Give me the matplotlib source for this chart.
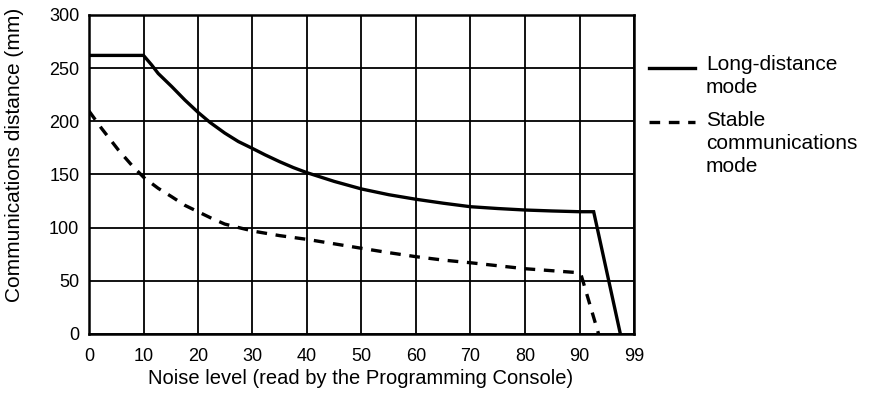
import matplotlib
matplotlib.use("Agg")
import matplotlib.pyplot as plt
from matplotlib.lines import Line2D

plt.rcParams['font.family'] = ['Liberation Sans', 'DejaVu Sans']

# Long-distance mode
long_x = [0, 10, 11.5, 12.7, 15.2, 17.6, 20, 22.2, 24.9, 27.4, 29.8, 32.3, 35, 37.5,
          40, 45, 50, 55, 60, 65, 70, 75, 80, 85, 90, 92.6, 97.5]
long_y = [262, 262, 253, 245, 232.6, 220, 208.5, 199, 189, 181, 175, 168.5, 162, 156.5,
          151.7, 143.5, 136.4, 131, 126.7, 123, 119.7, 118, 116.6, 115.7, 115, 115, 0]

# Stable communications mode
stable_x = [0, 2.3, 5.4, 7.8, 10.1, 12.7, 15.2, 17.6, 20, 22.5, 24.9, 28, 30.4, 35,
            40, 45, 50, 55, 60, 65, 70, 75, 80, 85, 89.7, 90.3, 93.5]
stable_y = [209.7, 193.4, 173, 159, 147, 137, 129, 121, 115, 108.8, 103.4, 99.4, 96.5, 92.5,
            89, 84.8, 80.6, 76.5, 72.7, 69.5, 67, 64.2, 61.4, 59.5, 57.7, 55.5, 0]

xtick_pos = [0, 10, 20, 30, 40, 50, 60, 70, 80, 90, 100]
xtick_labels = ["0", "10", "20", "30", "40", "50", "60", "70", "80", "90", "99"]
ytick_pos = [0, 50, 100, 150, 200, 250, 300]

fig = plt.figure(figsize=(8.7, 4.0), dpi=100)
ax = fig.add_axes([89/870, 1-334/400, (634-89)/870, (334-15)/400])

ax.plot(long_x, long_y, color='black', lw=2.4, solid_joinstyle='miter', zorder=3)
ax.plot(stable_x, stable_y, color='black', lw=2.4, linestyle=(0, (3.2, 2.6)), zorder=3)

ax.set_xlim(0, 100)
ax.set_ylim(0, 300)
ax.set_xticks(xtick_pos)
ax.set_xticklabels(xtick_labels)
ax.set_yticks(ytick_pos)
ax.grid(True, color='black', lw=1.3)
ax.set_axisbelow(True)
for s in ax.spines.values():
    s.set_linewidth(1.8)
ax.tick_params(length=0, labelsize=13, pad=7)
ax.tick_params(axis='x', pad=10)

fig.text(15/870, 1-155/400, "Communications distance (mm)", rotation=90,
         ha='center', va='center', fontsize=15)
fig.text(361/870, 1-378/400, "Noise level (read by the Programming Console)",
         ha='center', va='center', fontsize=14.5)

# legend
fig.add_artist(Line2D([649/870, 695/870], [1-68/400, 1-68/400], color='black', lw=2.4))
fig.add_artist(Line2D([649/870, 695/870], [1-122/400, 1-122/400], color='black', lw=2.4,
                      linestyle=(0, (3.2, 2.6))))
fig.text(706/870, 1-55/400, "Long-distance\nmode", ha='left', va='top', fontsize=15,
         linespacing=1.25)
fig.text(706/870, 1-111/400, "Stable\ncommunications\nmode", ha='left', va='top',
         fontsize=15, linespacing=1.25)

fig.savefig("out.png", dpi=100)
